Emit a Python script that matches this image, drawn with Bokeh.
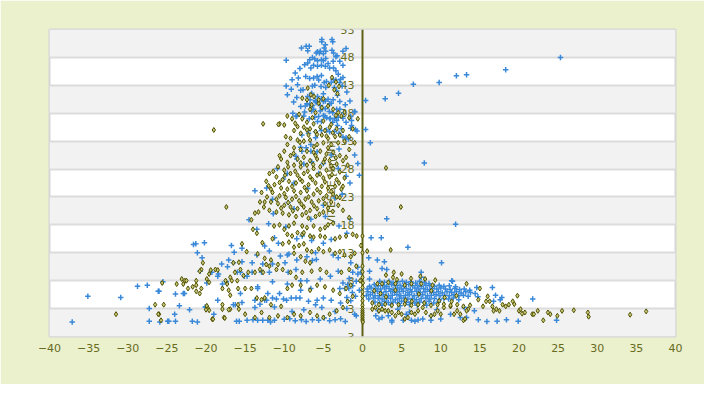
import math
from bokeh.plotting import figure
from bokeh.models import ColumnDataSource, Span, LabelSet, Label, FixedTicker
from bokeh.embed import file_html
from bokeh.resources import INLINE
from bokeh.core.properties import value

title_text = "VITESSE vs PENTE"
x_title = "Pente [%]"
y_title = "VITESSE [km/h]"
x_ticks = [-40, -35, -30, -25, -20, -15, -10, -5, 0, 5, 10, 15, 20, 25, 30, 35, 40]
y_ticks = [53, 48, 43, 38, 33, 28, 23, 18, 13, 8, 3, -2]
y_tick_labels = ["53", "48", "43", "38", "33", "28", "23", "18", "13", "8", "3", "3"]

# ---- series 1 (blue crosses) ----
blue_top = [(-5.2,50.8),(-3.8,50.8),(-7.8,49.7),(-7.2,50.0),(-6.8,50.0),(-7.0,49.2),(-4.75,50.25),(-4.9,49.7),(-4.7,49.1),(-5.75,49.0),(-5.4,49.1),(-5.9,48.8),(-5.5,48.8),(-5.0,48.65),(-3.9,49.3),(-3.7,48.8),(-3.4,48.1),(-3.25,48.3),(-2.1,49.6),(-2.5,49.1),(-2.9,47.3),(-2.5,46.6),(-6.75,47.6),(-6.4,48.0),(-6.1,47.7),(-5.75,47.4),(-5.25,47.6),(-4.7,47.8),(-5.0,47.4),(-4.4,46.9),(-3.75,47.3),(-7.0,47.0),(-7.4,46.7),(-6.6,46.1),(-6.25,46.6),(-5.75,46.4),(-5.25,46.6),(-4.75,46.4),(-4.2,46.1),(-3.7,46.1),(-3.4,45.6),(-3.1,45.0),(-2.8,44.1),(-2.5,44.4),(-8.2,44.3),(-7.25,44.6),(-6.75,44.2),(-6.25,44.3),(-5.8,44.6),(-5.25,44.75),(-5.6,43.95),(-4.9,43.5),(-4.6,43.7),(-4.0,43.5),(-3.75,44.1),(-3.4,43.95),(-2.9,43.5),(-2.6,42.9),(-7.9,42.1),(-7.6,42.2),(-8.3,43.1),(-6.4,42.9),(-6.1,43.0),(-5.3,42.8),(-4.7,42.6),(-3.6,42.6),(-3.3,42.0),(-5.0,41.5),(-5.75,41.0),(-5.25,40.6),(-4.75,40.2),(-4.4,40.5),(-4.2,39.7),(-3.75,40.4),(-3.2,41.2),(-7.9,39.2),(-7.1,39.7),(-6.75,39.5),(-6.4,39.4),(-5.9,39.9),(-5.4,39.4),(-6.25,38.7),(-5.1,38.9),(-4.75,38.8),(-4.25,38.3),(-3.8,38.1),(-3.3,38.7),(-2.9,38.7),(-2.4,38.1),(-1.0,38.3),(-8.4,37.5),(-7.5,37.5),(-6.8,37.0),(-6.1,37.3),(-5.6,37.4),(-5.0,37.6),(-4.6,37.2),(-4.1,37.1),(-3.6,37.0),(-3.1,37.3),(-2.5,37.1),(-2.1,36.4),(-1.4,35.8),(-0.7,34.8),(-5.75,36.5),(-5.25,36.5),(-3.8,36.4),(-3.2,35.8),(-2.7,35.2),(-7.75,34.1),(-6.9,34.4),(-6.0,34.7),(-5.25,34.9),(-4.6,35.0),(-4.2,34.7),(-3.6,34.7),(-3.0,34.4),(-2.5,33.75),(-1.8,33.4),(-7.2,31.8),(-6.6,31.2),(-5.8,31.1),(-7.75,31.2),
            (-9.75,47.5),(-9.75,42.9),(-9.1,42.3),(-8.4,40.8),(-9.6,41.3),(-8.9,38.0),(-5.2,51.2),(-3.9,51.2),(-8.0,46.0),(-8.6,45.2),(-9.0,44.0),(-8.8,40.0),(-7.0,41.0),(-6.5,41.6),(-6.0,40.3),(-2.0,41.8),(-1.6,40.2),(-2.2,39.5),(-1.5,37.4),(-6.5,38.4),(-7.4,38.2)]
blue_mid = [(-7.3,39.3),(-6.7,40.4),(-6.0,40.1),(-5.0,40.1),(-4.0,39.8),(-2.9,40.1),(-8.5,37.4),(-5.4,38.4),(-4.8,37.5),(-4.2,37.0),(-3.3,36.7),(-1.5,35.3),(-2.1,33.6),(-6.0,33.6),(-6.6,32.4),(-7.9,31.9),(-8.5,30.3),(-8.4,29.8),(-6.5,29.3),(-7.5,28.9),(-9.6,27.2),(-10.9,28.1),(-10.1,26.2),(-8.75,25.5),(-5.6,27.2),(-3.1,28.1),(-2.1,26.7),(-1.6,25.5),(-0.4,26.9),(-13.75,24.1),(-12.25,24.6),(-11.4,20.0),(-8.75,20.9),(-5.0,21.5),(-4.75,19.5),(-1.6,19.1),(-6.6,19.0),
            (-4.0,30.5),(-3.0,31.6),(-5.0,29.0),(-2.6,23.5),(-3.5,22.8),(-7.0,24.5),(-9.5,22.0),(-1.0,30.5),(-0.6,29.0),(-2.0,16.5),(-3.0,17.8),(-9.8,17.6),(-7.7,16.0),(-12.0,18.2),(-14.5,18.9),(-11.5,22.6)]
blue_low = [(-13.5,17.2),(-21.6,14.5),(-21.3,14.6),(-20.2,14.8),(-21.1,13.0),(-16.75,14.3),(-15.4,13.8),(-16.4,13.1),(-20.5,12.1),(-17.1,11.7),(-20.75,9.7),(-25.5,7.8),(-26.0,6.1),(-23.9,5.6),(-22.75,5.7),(-23.4,3.5),(-22.1,2.8),(-24.75,0.75),(-23.9,0.75),(-21.75,0.75),(-21.1,0.6),(-25.9,0.6),(-20.0,3.3),(-13.5,12.6),(-12.5,14.2),(-11.9,13.3),(-11.25,15.7),(-10.75,14.7),(-10.5,12.4),(-9.6,12.6),(-9.4,12.8),(-8.4,11.7),(-7.1,12.3),(-6.4,11.6),(-5.9,11.8),(-5.0,14.7),(-4.0,15.4),(-6.5,15.2),(-8.4,15.5),(-6.0,13.0),(-3.75,12.6),(-3.1,12.1),(-1.5,11.2),(-1.25,9.5),(-0.6,10.4),(-16.0,9.5),(-15.6,9.5),(-15.1,8.8),(-14.75,8.8),(-14.1,9.5),(-12.9,9.5),(-11.9,9.5),(-11.5,11.0),(-9.9,11.2),(-9.5,9.5),(-8.5,10.0),(-7.9,8.0),(-7.1,8.0),(-5.4,8.3),(-4.1,8.8),(-3.1,9.7),(-2.9,6.6),(-2.25,6.6),(-1.75,6.6),(-1.25,7.1),(-0.4,6.3),(-6.6,6.6),(-7.9,6.3),(-9.1,4.9),(-8.5,4.9),(-10.1,4.7),(-11.5,4.9),(-12.1,5.7),(-12.25,4.5),(-11.25,3.3),(-12.5,4.5),(-13.75,4.5),(-16.5,3.7),(-16.25,3.7),(-13.4,6.6),(-15.6,5.7),(-17.9,7.4),(-17.4,7.8),(-18.5,8.8),(-18.4,9.2),(-19.25,9.5),(-19.9,7.6),(-17.25,10.5),(-18.0,11.0),(-16.5,11.2),(-15.4,11.4),(-14.1,11.2),(-12.75,11.0),(-13.4,6.9),(-11.5,7.8),(-9.6,7.4),(-10.6,5.7),
            (-16.1,0.75),(-15.75,0.75),(-14.75,0.9),(-14.0,1.0),(-13.4,0.9),(-12.75,0.9),(-12.1,0.9),(-11.75,0.6),(-11.25,0.9),(-10.0,1.1),(-9.3,1.2),(-8.6,0.8),(-7.8,1.0),(-7.2,0.7),(-6.4,1.0),(-5.6,0.9),(-4.9,1.3),(-4.2,0.8),(-3.5,1.0),(-2.8,1.2),(-2.2,0.7),
            (-37.1,0.6),(-35.1,5.2),(-30.9,5.0),(-27.25,3.0),(-27.25,0.75),(-24.9,0.75),(-26.1,6.1),(-22.9,5.7),(-20.1,3.3),(-15.4,4.1),(-13.1,3.8),(-13.75,3.2),(-28.75,7.0),(-27.5,7.2),
            (-11.0,4.7),(-9.7,4.5),(-8.0,4.9),(-6.9,4.3),(-5.8,4.5),(-5.0,4.9),(-4.0,4.5),(-6.0,3.7),(-5.2,3.2),(-9.0,2.5),(-7.5,2.8),(-3.5,2.5),(-2.0,3.0),(-1.0,2.0),(-18.5,4.5),(-19.0,2.0),(-24.0,2.0),
            (-2.5,7.6),(-1.9,7.3),(-1.3,5.9),(-0.9,5.2),(-2.0,5.0),(-1.5,4.4),(-0.8,7.9),(-1.7,8.4),(-2.8,4.0)]
blue_right = [(25.3,48.0),(18.3,45.8),(13.3,44.9),(12.0,44.7),(9.8,43.5),(6.5,43.2),(4.6,41.6),(2.9,40.6),(0.4,40.3),(0.4,35.1),(1.0,32.7),(7.9,29.1),(3.1,19.1),(11.9,18.1),(1.1,15.7),(2.4,15.7),(5.8,14.0),(0.8,12.1),(1.9,11.7),(2.8,11.4),(10.1,11.2),(0.9,9.7),(2.5,10.2),(3.1,10.0),(7.5,9.5),(0.9,8.3),(11.4,8.0),(16.6,6.8),(14.6,6.8),(-0.9,35.1),(-1.0,38.2),(-1.4,36.7),
              (14.75,5.1),(17.0,5.4),(17.8,5.0),(17.6,4.6),(16.75,4.3),(21.75,4.7),(14.8,1.0),(15.9,0.7),(17.2,0.75),(18.4,1.0),(19.9,0.75),(24.8,0.9),(11.5,7.9),(7.5,8.6),(1.7,1.7),(2.1,1.15),(2.5,1.4),(3.3,1.7),(3.75,0.9),(3.75,0.6),(5.2,0.9),(6.25,0.9),(6.7,0.75),(7.1,0.95),(7.7,1.15),(8.75,1.7),(8.75,0.9),(10.0,1.15),(11.25,2.0),(12.5,1.4),(13.3,1.4),(-0.8,1.7),(-0.6,9.2),(-0.2,9.5),
              (2.0,2.6),(4.5,2.9),(6.0,2.4),(9.5,2.8),(13.0,3.2),(14.3,2.6),(5.6,2.0)]
blue_blob = [(2.2,7.9),(2.8,7.7),(3.4,7.9),(3.9,7.6),(4.5,7.8),(5.1,7.9),(5.6,7.7),(6.2,7.8),(6.8,7.6),(7.3,7.9),(7.9,7.7),(8.5,7.5),
             (0.9,7.0),(1.5,7.3),(2.0,7.1),(2.6,7.2),(3.1,7.0),(3.7,7.3),(4.2,7.1),(4.8,7.2),(5.3,7.0),(5.9,7.3),(6.4,7.1),(7.0,7.2),(7.5,7.0),(8.1,7.2),(8.6,7.1),(9.2,7.0),(9.8,7.2),(10.4,7.0),(11.1,7.1),(11.9,6.9),
             (0.6,6.5),(1.1,6.7),(1.7,6.6),(2.3,6.5),(2.8,6.7),(3.4,6.6),(3.9,6.4),(4.5,6.7),(5.0,6.5),(5.6,6.6),(6.1,6.4),(6.7,6.7),(7.2,6.5),(7.8,6.6),(8.3,6.4),(8.9,6.6),(9.5,6.5),(10.0,6.7),(10.6,6.5),(11.2,6.4),(11.8,6.6),(12.4,6.4),(13.0,6.5),(13.7,6.3),
             (0.7,6.0),(1.3,5.9),(1.9,6.1),(2.4,5.9),(3.0,6.0),(3.6,6.1),(4.1,5.9),(4.7,6.0),(5.2,6.1),(5.8,5.9),(6.3,6.0),(6.9,6.1),(7.4,5.9),(8.0,6.0),(8.6,6.1),(9.1,5.9),(9.7,6.0),(10.2,5.8),(10.8,6.0),(11.4,5.9),(12.0,6.0),(12.6,5.8),(13.2,6.0),(13.8,5.9),(14.4,5.7),
             (0.5,5.3),(1.0,5.5),(1.6,5.3),(2.2,5.4),(2.7,5.5),(3.3,5.3),(3.8,5.4),(4.4,5.5),(4.9,5.3),(5.5,5.4),(6.0,5.5),(6.6,5.3),(7.1,5.4),(7.7,5.5),(8.3,5.3),(8.8,5.4),(9.4,5.5),(9.9,5.3),(10.5,5.4),(11.1,5.3),(11.7,5.5),(12.3,5.3),(12.9,5.4),(13.5,5.2),
             (0.8,4.7),(1.4,4.9),(2.0,4.8),(2.5,4.7),(3.1,4.9),(3.6,4.8),(4.2,4.6),(4.7,4.8),(5.3,4.9),(5.8,4.7),(6.4,4.8),(6.9,4.6),(7.5,4.8),(8.1,4.9),(8.6,4.7),(9.2,4.8),(9.8,4.6),(10.4,4.8),(11.0,4.7),(11.6,4.9),(12.3,4.6),
             (1.6,4.2),(2.2,4.0),(2.8,4.3),(3.3,4.1),(3.9,4.2),(4.5,4.0),(5.0,4.3),(5.6,4.1),(6.2,4.2),(6.7,4.0),(7.3,4.2),(7.9,4.1),(8.5,4.3),(9.1,4.0),(9.7,4.2),
             (2.5,3.6),(3.6,3.7),(4.8,3.5),(6.0,3.7),(7.0,3.6),(8.2,3.6)]

# ---- series 2 (olive diamonds) ----
olive_cloud = [(-7.7,40.7),(-7.1,40.4),(-6.5,39.5),(-5.6,39.8),(-5.2,39.0),(-6.7,38.7),(-6.0,38.1),(-4.4,39.3),(-3.75,38.7),(-3.1,38.1),(-2.7,37.5),(-2.3,38.2),(-1.7,37.2),(-7.7,37.0),(-7.1,36.4),(-7.5,35.5),(-6.7,35.2),(-6.25,36.1),(-5.4,35.5),(-4.8,34.9),(-4.2,35.5),(-3.3,35.2),(-2.5,34.9),(-2.9,34.1),(-3.5,33.8),(-4.4,33.5),(-5.2,34.1),(-6.0,34.7),(-6.9,34.1),(-7.9,34.4),(-8.75,34.9),(-9.2,33.5),(-8.3,33.2),(-7.5,33.0),(-6.7,33.2),(-5.8,32.4),(-5.0,32.7),(-4.0,32.4),(-3.1,32.7),(-2.3,33.0),(-9.6,32.4),(-8.75,31.8),(-7.9,31.5),(-7.1,31.2),(-6.25,31.0),(-5.4,31.2),(-4.6,30.7),(-3.75,31.0),(-2.9,30.4),(-10.0,31.2),(-9.2,30.4),(-8.3,29.8),(-7.5,30.1),(-6.7,29.5),(-5.8,29.8),(-5.0,29.2),(-4.2,29.5),(-3.3,28.9),(-2.5,29.5),(-10.4,29.8),(-9.6,29.2),(-8.75,28.7),(-7.9,28.4),(-7.1,28.7),(-6.25,28.1),(-5.4,28.4),(-4.6,27.8),(-3.75,28.1),(-2.9,27.5),(-10.8,28.4),(-10.0,27.8),(-9.2,27.2),(-8.3,26.9),(-7.5,27.2),(-6.7,26.6),(-5.8,26.9),(-5.0,26.4),(-4.2,26.6),(-3.3,26.1),(-11.0,26.6),(-10.2,26.1),(-9.4,25.8),(-8.5,25.5),(-7.7,25.8),(-6.9,25.2),(-6.0,25.5),(-5.2,24.9),(-4.4,24.6),(-3.5,24.9),(-2.7,24.4),(-11.25,25.2),(-10.4,24.6),(-9.6,24.4),(-8.75,24.1),(-7.9,23.8),(-7.1,24.1),(-6.25,23.5),(-5.4,23.8),(-4.6,23.2),(-3.75,23.5),(-11.5,23.8),(-10.6,23.2),(-9.8,22.9),(-9.0,22.6),(-8.1,22.3),(-7.3,22.6),(-6.5,22.1),(-5.6,22.3),(-4.8,21.8),(-4.0,22.1),(-11.7,22.1),(-10.8,21.8),(-10.0,21.5),(-9.2,21.2),(-8.3,20.9),(-7.5,21.2),(-6.7,20.6),(-5.8,20.9),(-5.0,20.3),(-11.9,20.6),(-11.0,20.3),(-10.2,20.1),(-9.4,19.8),(-8.5,19.5),(-7.7,19.8),(-6.9,19.2),(-6.0,19.5),(-12.7,36.1),(-10.6,36.1),(-10.0,35.9),(-13.75,20.1),(-12.5,22.1),(-9.6,37.5),(-9.0,37.0),(-8.1,37.8),(-0.6,37.0),(-1.25,35.2),(-1.7,33.8),(-1.0,32.7),(-1.7,31.5),(-2.1,30.1),(-1.9,28.7),(-2.3,26.4),(-2.5,24.9),(-2.9,22.9),(-3.1,21.5),(-2.5,20.6),(-1.7,19.3),
               (-3.9,44.4),(-3.4,43.6),(-3.0,42.8),(-3.6,42.2),(-3.2,41.5),(-6.6,41.3),(-6.2,41.0),(-5.6,40.4),(-5.0,40.6),(-7.0,42.5),(-4.3,43.0),
               (-10.75,36.0),(-19.0,35.0),(-17.4,21.2),(-11.9,27.2),(-12.3,25.8),(-11.7,24.4),(-12.9,23.8),(-13.1,22.1),(-12.6,21.2),(-13.3,20.3),(-14.2,18.9)]
olive_core = [(-8.3,35.6),(-7.1,35.0),(-5.8,34.2),(-4.6,33.9),(-3.8,34.5),(-8.0,32.8),(-6.2,32.0),(-4.4,31.8),(-3.4,30.0),(-8.8,30.8),(-6.0,30.4),(-4.8,29.8),(-7.9,29.1),(-6.3,28.8),(-4.0,28.6),(-9.5,28.4),(-8.6,27.6),(-7.0,27.6),(-5.4,27.1),(-3.9,27.0),(-9.9,26.9),(-8.0,26.2),(-6.4,26.1),(-4.8,25.7),(-3.0,25.5),(-10.6,25.6),(-9.0,24.9),(-7.4,24.7),(-5.8,24.3),(-4.0,24.0),(-10.0,23.6),(-8.5,23.1),(-6.9,23.0),(-5.0,22.7),(-3.3,23.0),(-11.0,22.6),(-9.5,22.0),(-7.8,21.7),(-6.2,21.4),(-4.4,21.0),(-10.4,21.0),(-8.9,20.5),(-7.2,20.2),(-5.5,19.9),(-3.8,20.4),(-12.2,23.0),(-12.0,25.0),(-11.4,27.6),(-10.6,30.4),(-9.8,33.8),(-8.6,36.2),(-5.0,36.6),(-4.0,36.0),(-6.4,37.2),(-3.4,37.6)]
olive_low = [(-11.3,17.8),(-10.6,18.0),(-10.0,17.2),(-9.4,17.8),(-8.75,18.3),(-7.7,17.8),(-7.1,17.5),(-6.25,17.8),(-5.4,17.2),(-4.8,17.5),(-4.4,18.0),(-3.75,18.3),(-9.6,16.3),(-9.0,16.0),(-8.3,16.6),(-7.7,16.3),(-7.5,16.6),(-6.7,16.0),(-6.25,15.8),(-5.4,16.0),(-4.8,15.8),(-3.5,15.5),(-2.9,15.8),(-2.1,16.0),(-1.25,16.3),(-0.75,16.0),(-11.5,15.5),(-10.2,14.6),(-9.4,14.9),(-8.75,14.0),(-8.1,14.3),(-7.5,14.6),(-7.1,13.5),(-6.5,13.2),(-5.6,13.7),(-5.0,13.2),(-4.2,13.5),(-3.5,12.9),(-2.9,13.2),(-2.3,12.6),(-1.5,12.3),(-1.0,12.9),(-0.2,14.3),(-12.5,12.0),(-11.7,11.7),(-10.8,10.9),(-8.75,12.9),(-7.9,12.3),(-7.3,11.5),(-6.7,11.2),(-12.3,10.9),(-11.9,10.6),(-11.0,10.0),(-10.2,10.0),(-9.2,9.5),(-8.5,8.6),(-7.7,9.5),(-6.5,9.7),(-5.4,10.0),(-4.6,9.5),(-2.7,9.5),(-1.7,10.0),(-0.8,10.6),(-16.5,11.2),(-15.8,11.3),(-15.6,10.0),(-16.3,9.5),(-16.9,8.6),(-17.5,8.0),(-17.3,7.4),(-16.7,8.0),(-16.0,8.0),(-15.2,8.9),(-14.6,9.5),(-13.75,9.5),(-13.1,10.0),(-12.7,9.5),(-18.8,10.0),(-18.5,9.9),(-19.4,9.9),(-19.6,9.2),(-20.6,10.0),(-20.4,11.2),(-20.8,9.7),(-19.9,8.3),(-19.6,7.7),(-21.25,8.0),(-21.25,7.2),(-22.7,8.0),(-22.9,7.4),(-22.3,6.6),(-21.7,6.9),(-20.8,5.7),(-20.6,6.6),(-17.9,6.6),(-17.1,6.3),(-15.9,6.6),(-15.0,6.6),(-14.2,6.6),(-13.5,4.9),(-12.9,4.6),(-12.5,4.9),(-11.7,3.7),(-10.4,3.4),(-9.6,6.6),(-9.0,7.2),(-7.9,7.2),(-6.7,6.3),(-5.8,7.2),(-4.8,6.9),(-3.75,6.3),(-2.9,5.7),(-2.1,6.6),(-1.5,7.2),(-1.25,5.2),(-1.9,4.3),(-2.5,3.2),(-3.3,2.6),(-4.2,2.0),(-5.0,1.4),(-5.8,1.7),(-6.7,2.3),(-7.9,1.7),(-8.75,2.0),(-9.6,1.4),(-10.8,1.7),(-11.9,1.4),(-12.9,2.3),(-13.75,1.4),(-15.0,2.0),(-15.8,2.9),(-16.9,2.9),(-17.7,1.4),(-19.2,1.1),(-19.8,3.2),(-19.6,2.7),(-23.75,7.4),(-25.4,3.7),(-26.0,2.0),
             (-31.5,2.0),(-26.5,3.7),(-26.1,2.0),(-25.75,0.9),(-21.25,6.1),(-19.9,3.5),(-20.0,2.8),(-19.1,1.1),(-17.9,3.7),(-17.9,2.9),(-17.6,1.3),(-17.1,2.8),(-16.9,5.4),(-15.9,3.7),(-25.6,7.6),(-23.1,8.3),(-22.5,8.0),
             (-14.0,17.2),(-13.5,16.5),(-15.4,14.6),(-14.8,13.2),(-13.4,12.8),(-12.8,14.8)]
olive_axis = [(0.0,16.0),(0.0,13.0),(0.0,10.6),(0.0,9.6),(0.0,8.6),(0.05,7.6),(0.0,6.8),(0.0,6.0),(0.0,5.2),(0.0,4.4),(0.0,3.6),(0.0,3.0),(0.0,2.6),(0.0,2.3),(0.0,2.0),(0.0,1.7),(0.0,1.4),(0.0,1.1),(0.0,0.8),(0.05,0.6),(-0.3,8.0)]
olive_right = [(14.8,4.6),(15.4,3.4),(15.8,4.3),(16.0,5.2),(16.25,4.3),(16.6,3.4),(16.75,2.6),(17.1,2.9),(17.5,2.6),(17.9,3.7),(18.3,3.4),(18.7,3.7),(19.2,4.3),(19.4,3.8),(19.8,5.3),(20.0,2.6),(20.2,2.9),(20.4,2.1),(20.75,2.3),(21.7,2.0),(21.9,2.0),(22.4,2.6),(23.1,0.9),(23.7,2.3),(24.0,2.0),(24.9,1.7),(25.5,2.6),(27.0,2.7),(28.8,2.3),(28.9,1.55),(34.2,1.9),(36.25,2.5),(13.5,2.9),(13.3,2.6),(12.9,0.9),(13.1,1.15),(12.5,2.0),(12.1,2.6),(11.25,3.4),(11.7,2.0),(10.4,3.2),(10.0,2.0),(9.6,2.6),(9.2,2.0),(8.75,1.7),(8.1,2.3),(7.7,3.2),(7.1,2.6),(6.7,2.0),(6.25,2.3),(5.8,1.4),(5.4,1.15),(5.0,2.0),(4.6,2.3),(4.2,1.7),(3.75,2.3),(3.3,2.6),(2.9,2.6),(2.5,2.9),(2.1,2.6),(1.67,3.2),(1.25,2.9),
               (13.3,7.45),(8.95,7.2),(7.5,7.45),(6.25,7.45),(5.4,7.2),(4.2,7.45),(3.3,7.7),(2.5,7.45),(1.9,7.45),
               (1.25,4.0),(2.1,3.7),(2.9,3.8),(3.75,3.6),(4.6,3.7),(5.4,3.8),(6.25,3.6),(7.1,3.7),(7.9,4.0),(8.75,3.6),(9.6,3.7),(10.4,3.8),(11.25,3.6),(12.1,3.7),(12.9,3.4),(13.75,3.6),
               (3.0,5.1),(5.5,4.5),(7.2,5.6),(8.8,6.2),(4.2,6.3),(10.5,5.0),(12.0,5.3),(6.3,4.3),(2.3,5.7),(9.8,4.4),(11.4,4.3),(1.5,6.2),
               (3.0,9.0),(3.9,8.6),(4.4,8.2),(5.0,9.2),(6.2,8.4),(7.4,8.8),(8.0,8.3),(9.3,8.1),(15.0,6.6),
               (3.6,13.5),(0.6,13.3),(4.0,9.5),(3.0,28.2),(4.9,21.2)]


def unzip(*groups):
    xs, ys = [], []
    for g in groups:
        for a, b in g:
            xs.append(a)
            ys.append(b)
    return xs, ys


blue_x, blue_y = unzip(blue_top, blue_mid, blue_low, blue_right, blue_blob)
olive_x, olive_y = unzip(olive_cloud, olive_core, olive_low, olive_axis, olive_right)

PAGE_BG = "#ebf0cd"
OLIVE_TXT = "#676c1e"
FONT = "DejaVu Sans"

p = figure(width=704, height=384, x_range=(-40, 40), y_range=(-2, 53),
           output_backend="svg", toolbar_location=None, y_axis_location=None,
           min_border_left=49, min_border_right=29, min_border_top=29, min_border_bottom=48)

p.border_fill_color = PAGE_BG
p.background_fill_color = "white"
p.outline_line_color = "#d6d6d6"
p.outline_line_width = 2

p.xgrid.visible = False
p.ygrid.ticker = FixedTicker(ticks=y_ticks)
p.ygrid.grid_line_color = "#dcdcdc"
p.ygrid.grid_line_width = 2
p.ygrid.band_fill_color = "#f2f2f2"
p.ygrid.band_fill_alpha = 1.0

xa = p.xaxis[0]
xa.ticker = FixedTicker(ticks=x_ticks)
xa.axis_line_color = None
xa.major_tick_line_color = None
xa.minor_tick_line_color = None
xa.major_tick_out = 0
xa.major_tick_in = 0
xa.minor_tick_out = 0
xa.minor_tick_in = 0
xa.major_label_standoff = 7
xa.major_label_text_font = FONT
xa.major_label_text_font_size = "11px"
xa.major_label_text_color = OLIVE_TXT

# vertical axis at x = 0
p.add_layout(Span(location=0, dimension="height", line_color="#5d6212", line_width=2, level="underlay"))

ysrc = ColumnDataSource(dict(x=[0] * len(y_ticks), y=y_ticks, text=y_tick_labels))
p.add_layout(LabelSet(x="x", y="y", text="text", source=ysrc, x_offset=-8,
                      text_align="right", text_baseline="middle",
                      text_font=value(FONT), text_font_size="11px",
                      text_color=OLIVE_TXT, level="underlay"))

p.add_layout(Label(x=-4.0, y=25.5, text=y_title, angle=math.pi / 2,
                   text_align="center", text_baseline="middle",
                   text_font=FONT, text_font_size="11px", text_color=OLIVE_TXT,
                   level="underlay"))

# chart title and x title, placed relative to the frame edges
p.add_layout(Label(x=-1.3, y=53, y_offset=19, text=title_text,
                   text_align="center", text_baseline="middle",
                   text_font=FONT, text_font_size="13px", text_color="#5b6016"))
p.add_layout(Label(x=40, y=-2, y_offset=-29, text=x_title,
                   text_align="right", text_baseline="middle",
                   text_font=FONT, text_font_size="11px", text_color=OLIVE_TXT))

p.scatter(blue_x, blue_y, marker="cross", size=5.5, line_color="#3a89d9", line_width=1.5)
p.scatter(olive_x, olive_y, marker="diamond", size=5, fill_color="#c8c878",
          line_color="#4f5000", line_width=1)

open("out.html", "w").write(file_html(p, INLINE))
